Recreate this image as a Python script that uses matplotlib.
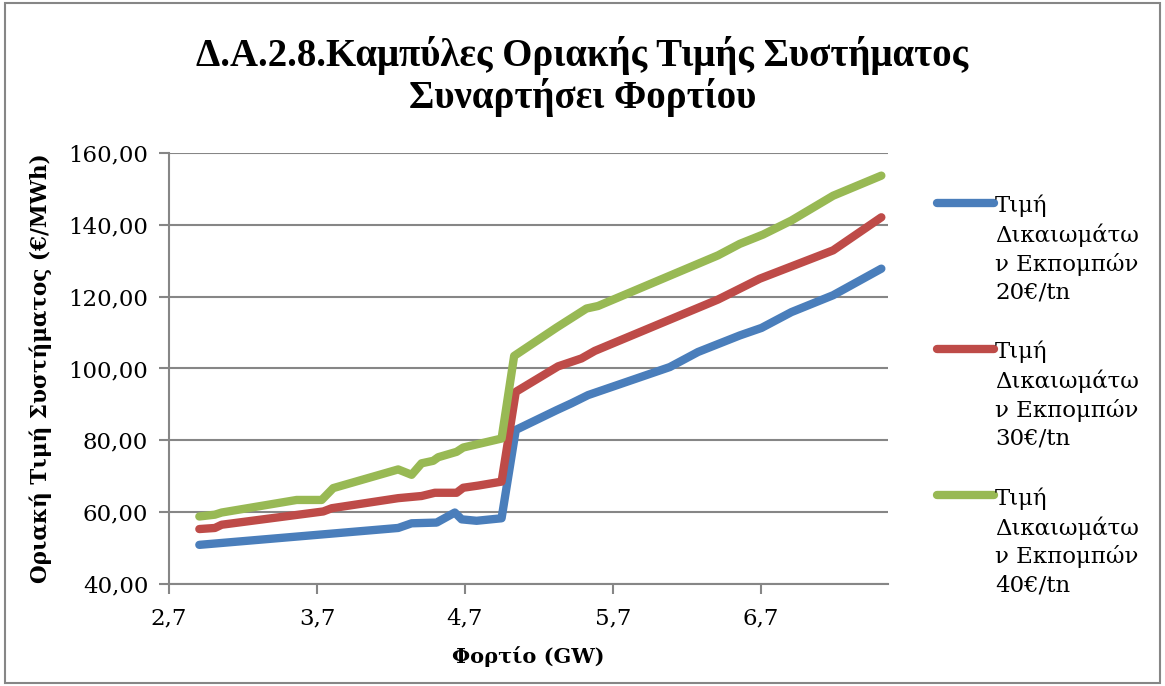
import matplotlib
matplotlib.use("Agg")
import matplotlib.pyplot as plt
from matplotlib.patches import Rectangle
from matplotlib.ticker import FuncFormatter, MultipleLocator

plt.rcParams['font.family'] = ['DejaVu Serif']

title = "Δ.Α.2.8.Καμπύλες Οριακής Τιμής Συστήματος\nΣυναρτήσει Φορτίου"
xlabel = "Φορτίο (GW)"
ylabel = "Οριακή Τιμή Συστήματος (€/MWh)"

labels = [
    "Τιμή\nΔικαιωμάτω\nν Εκπομπών\n20€/tn",
    "Τιμή\nΔικαιωμάτω\nν Εκπομπών\n30€/tn",
    "Τιμή\nΔικαιωμάτω\nν Εκπομπών\n40€/tn",
]

load_20 = [2.905, 4.249, 4.34, 4.509, 4.632, 4.678, 4.779, 4.948, 5.044,
           5.32, 5.42, 5.533, 6.085, 6.276, 6.558, 6.705, 6.907, 7.189, 7.515]
price_20 = [50.9, 55.6, 56.9, 57.1, 59.9, 58.0, 57.6, 58.3, 82.9,
            88.4, 90.3, 92.6, 100.4, 104.6, 109.2, 111.3, 115.7, 120.4, 127.8]

load_30 = [2.905, 3.01, 3.056, 3.743, 3.80, 4.249, 4.407, 4.497, 4.644,
           4.689, 4.79, 4.948, 5.044, 5.33, 5.488, 5.578, 6.411, 6.693,
           7.189, 7.515]
price_30 = [55.3, 55.6, 56.5, 60.2, 61.1, 63.9, 64.5, 65.4, 65.4,
            66.8, 67.4, 68.5, 93.5, 100.6, 102.8, 104.9, 119.2, 125.0,
            132.9, 142.1]

load_40 = [2.905, 3.01, 3.056, 3.563, 3.732, 3.81, 4.249, 4.34, 4.407,
           4.486, 4.52, 4.644, 4.689, 4.948, 5.033, 5.32, 5.522, 5.6,
           6.411, 6.558, 6.716, 6.907, 7.189, 7.515]
price_40 = [58.8, 59.3, 59.9, 63.4, 63.4, 66.7, 71.9, 70.4, 73.6,
            74.3, 75.3, 76.8, 78.0, 80.5, 103.5, 111.4, 116.7, 117.4,
            131.5, 134.7, 137.3, 141.2, 148.1, 153.7]

colors = ["#4A7EBB", "#BE4B48", "#98B954"]

fig = plt.figure(figsize=(11.65, 6.86), dpi=100)
ax = fig.add_axes([169/1165, 1-584/686, (888-169)/1165, (584-153)/686])

for xs, ys, c, lab in zip([load_20, load_30, load_40],
                          [price_20, price_30, price_40], colors, labels):
    ax.plot(xs, ys, color=c, lw=6, solid_capstyle='round',
            solid_joinstyle='round', label=lab)

ax.set_xlim(2.7, 7.56)
ax.set_ylim(40, 160)
ax.set_xticks([2.7, 3.7, 4.7, 5.7, 6.7])
ax.set_xticklabels(["2,7", "3,7", "4,7", "5,7", "6,7"])
ax.yaxis.set_major_locator(MultipleLocator(20))
ax.yaxis.set_major_formatter(FuncFormatter(lambda v, p: f"{v:.2f}".replace(".", ",")))

ax.grid(axis='y', color='#868686', lw=1.5)
ax.set_axisbelow(True)
for s in ['top', 'right']:
    ax.spines[s].set_visible(False)
for s in ['left', 'bottom']:
    ax.spines[s].set_color('#868686')
    ax.spines[s].set_linewidth(1.5)
ax.tick_params(axis='both', direction='out', length=7, width=1.5,
               color='#868686', labelsize=16.5)
ax.tick_params(axis='y', pad=8)
ax.tick_params(axis='x', pad=10)

ax.set_xlabel(xlabel, fontsize=15, fontweight='bold', labelpad=12)
ax.set_ylabel(ylabel, fontsize=15.5, fontweight='bold', labelpad=12)

fig.suptitle(title, fontsize=28, fontweight='bold', y=0.948, linespacing=1.1,
             family=['Liberation Serif', 'DejaVu Serif'])

leg = ax.legend(loc='upper left', bbox_to_anchor=(1.055, 0.925), frameon=False,
                fontsize=16.5, handlelength=2.5, handletextpad=0.05,
                labelspacing=1.65, borderaxespad=0)
for t in leg.get_texts():
    t.set_linespacing(1.33)
for col in leg._legend_handle_box.get_children():
    for hp in col.get_children():
        hp.align = 'top'

fig.patches.append(Rectangle((0.004, 0.004), 0.992, 0.992, transform=fig.transFigure,
                             fill=False, edgecolor='#868686', lw=1.5))

fig.savefig("out.png", dpi=100)
